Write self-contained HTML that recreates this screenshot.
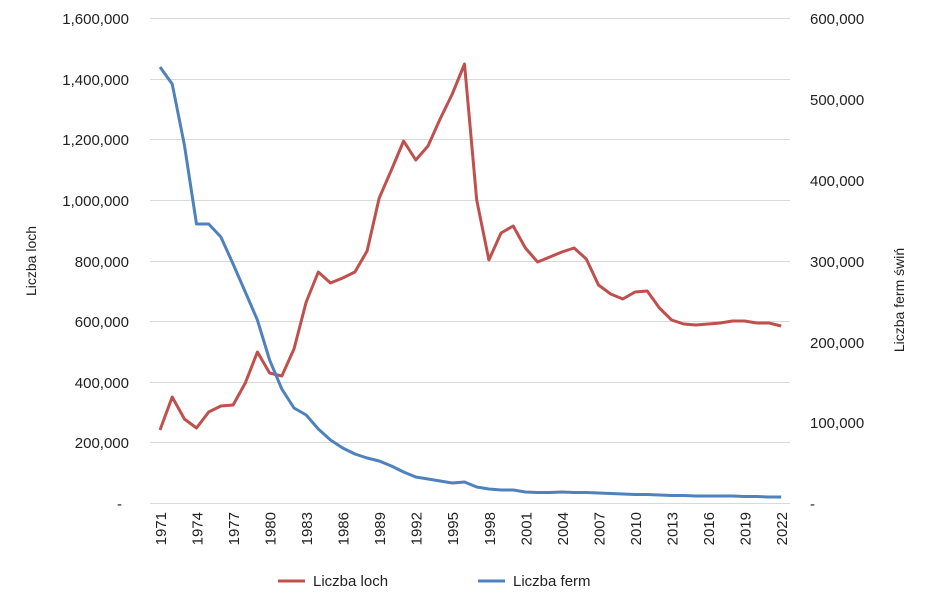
<!DOCTYPE html>
<html><head><meta charset="utf-8"><style>
body{margin:0;background:#fff;}
svg text{font-family:"Liberation Sans","DejaVu Sans",sans-serif;fill:#222;}
</style></head><body>
<svg width="925" height="605" viewBox="0 0 925 605" xmlns="http://www.w3.org/2000/svg">
<g stroke="#d9d9d9" stroke-width="1">
<line x1="150" x2="790" y1="18.5" y2="18.5"/>
<line x1="150" x2="790" y1="79.5" y2="79.5"/>
<line x1="150" x2="790" y1="139.5" y2="139.5"/>
<line x1="150" x2="790" y1="200.5" y2="200.5"/>
<line x1="150" x2="790" y1="261.5" y2="261.5"/>
<line x1="150" x2="790" y1="321.5" y2="321.5"/>
<line x1="150" x2="790" y1="382.5" y2="382.5"/>
<line x1="150" x2="790" y1="442.5" y2="442.5"/>
<line x1="150" x2="790" y1="503.5" y2="503.5"/>
</g>
<g font-size="15" text-anchor="end">
<text x="129" y="24">1,600,000</text>
<text x="129" y="85">1,400,000</text>
<text x="129" y="145">1,200,000</text>
<text x="129" y="206">1,000,000</text>
<text x="129" y="267">800,000</text>
<text x="129" y="327">600,000</text>
<text x="129" y="388">400,000</text>
<text x="129" y="448">200,000</text>
<text x="122" y="509">-</text>
</g>
<g font-size="15" text-anchor="start">
<text x="810" y="24">600,000</text>
<text x="810" y="105">500,000</text>
<text x="810" y="186">400,000</text>
<text x="810" y="267">300,000</text>
<text x="810" y="348">200,000</text>
<text x="810" y="428">100,000</text>
<text x="810" y="509">-</text>
</g>
<text font-size="14" transform="translate(36,261) rotate(-90)" text-anchor="middle">Liczba loch</text>
<text font-size="14" transform="translate(904,300) rotate(-90)" text-anchor="middle">Liczba ferm świń</text>
<g font-size="15" text-anchor="end">
<text transform="translate(166,512) rotate(-90)">1971</text>
<text transform="translate(202.5,512) rotate(-90)">1974</text>
<text transform="translate(239,512) rotate(-90)">1977</text>
<text transform="translate(275.6,512) rotate(-90)">1980</text>
<text transform="translate(312.1,512) rotate(-90)">1983</text>
<text transform="translate(348.6,512) rotate(-90)">1986</text>
<text transform="translate(385.2,512) rotate(-90)">1989</text>
<text transform="translate(421.7,512) rotate(-90)">1992</text>
<text transform="translate(458.2,512) rotate(-90)">1995</text>
<text transform="translate(494.8,512) rotate(-90)">1998</text>
<text transform="translate(531.3,512) rotate(-90)">2001</text>
<text transform="translate(567.8,512) rotate(-90)">2004</text>
<text transform="translate(604.4,512) rotate(-90)">2007</text>
<text transform="translate(640.9,512) rotate(-90)">2010</text>
<text transform="translate(677.4,512) rotate(-90)">2013</text>
<text transform="translate(714,512) rotate(-90)">2016</text>
<text transform="translate(750.5,512) rotate(-90)">2019</text>
<text transform="translate(787,512) rotate(-90)">2022</text>
</g>
<polyline fill="none" stroke="#c0504d" stroke-width="3" stroke-linejoin="round" points="160,430 172.2,397 184.4,419 196.5,428 208.7,412 220.9,406 233.1,405 245.3,383 257.4,352 269.6,373 281.8,376 294,349 306.2,302 318.3,272 330.5,283 342.7,278 354.9,272 367.1,251 379.2,198 391.4,170 403.6,141 415.8,160 428,146 440.1,119 452.3,94 464.5,64 476.7,200 488.9,260 501,233 513.2,226 525.4,248 537.6,262 549.8,257 561.9,252 574.1,248 586.3,259 598.5,285 610.7,294 622.8,299 635,292 647.2,291 659.4,308 671.6,320 683.7,324 695.9,325 708.1,324 720.3,323 732.5,321 744.6,321 756.8,323 769,323 781.2,326"/>
<polyline fill="none" stroke="#4f81bd" stroke-width="3" stroke-linejoin="round" points="160,67 172.2,84 184.4,145 196.5,224 208.7,224 220.9,237 233.1,264 245.3,292 257.4,320 269.6,360 281.8,389 294,408 306.2,415 318.3,429 330.5,440 342.7,448 354.9,454 367.1,458 379.2,461 391.4,466 403.6,472 415.8,477 428,479 440.1,481 452.3,483 464.5,482 476.7,487 488.9,489 501,490 513.2,490 525.4,492 537.6,492.5 549.8,492.5 561.9,492 574.1,492.5 586.3,492.5 598.5,493 610.7,493.5 622.8,494 635,494.5 647.2,494.5 659.4,495 671.6,495.5 683.7,495.5 695.9,496 708.1,496 720.3,496 732.5,496 744.6,496.5 756.8,496.5 769,497 781.2,497"/>
<line x1="278" x2="305" y1="581" y2="581" stroke="#c0504d" stroke-width="3"/>
<text x="313" y="586" font-size="15">Liczba loch</text>
<line x1="478" x2="505" y1="581" y2="581" stroke="#4f81bd" stroke-width="3"/>
<text x="513" y="586" font-size="15">Liczba ferm</text>
</svg>
</body></html>
